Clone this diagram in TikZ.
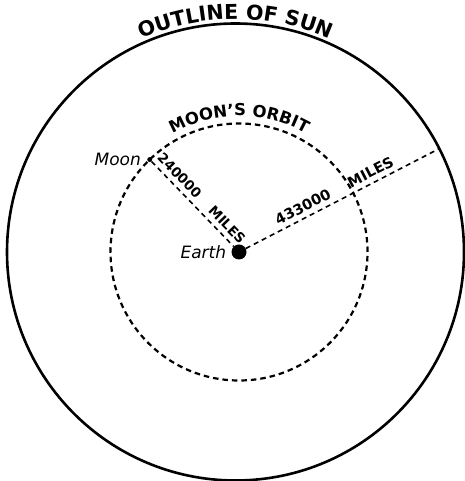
\documentclass[tikz,border=0pt]{standalone}
\usepackage{fontspec}
\setmainfont{DejaVu Sans}
\usetikzlibrary{positioning,decorations.text}

\begin{document}
\begin{tikzpicture}[x=1pt, y=1pt,
    outline/.style={draw, line width=2.6pt},
    orbit/.style={draw, line width=2.2pt, dash pattern=on 5.5pt off 4pt},
    dist/.style={draw, line width=1.6pt, dash pattern=on 5pt off 4pt},
    body/.style={circle, fill, inner sep=0pt},
    lbl/.style={font=\fontsize{17}{17}\selectfont\itshape, inner sep=1pt},
    fig/.style={font=\bfseries\fontsize{13.5}{13.5}\selectfont, sloped, above=2.5pt, inner sep=2pt}
]
    \useasboundingbox (0,0) rectangle (464,481);
    \coordinate (sun) at (235.5,229);
    \node[body, minimum size=15pt] (earth) at (239,229) {};
    \node[body, minimum size=5pt] (moon) at ([shift={(134:128.5)}]earth.center) {};
    \coordinate (rim) at ([shift={(27.3:225.4)}]earth.center);
    \node[lbl, left=5pt of moon] (moonlbl) {Moon};
    \node[lbl, left=4pt of earth] (earthlbl) {Earth};
    % sun and orbit
    \draw[outline] (sun) circle[radius=228.5];
    \draw[orbit] (earth.center) circle[radius=128.5];
    \path[decorate, decoration={text along path, text align=center,
        text={|\bfseries\fontsize{20.5}{20.5}\selectfont|OUTLINE OF SUN}}]
        ([shift={(120:233)}]sun) arc[start angle=120, end angle=60, radius=233];
    \path[decorate, decoration={text along path, text align=center,
        text={|\bfseries\fontsize{16.5}{16.5}\selectfont|MOON'S ORBIT}}]
        ([shift={(125:136)}]earth.center) arc[start angle=125, end angle=55, radius=136];
    % distances
    \draw[dist] (moon) -- (earth)
        node[fig, pos=0.25] {240000}
        node[fig, pos=0.83] {MILES};
    \draw[dist] (earth) -- (rim)
        node[fig, font=\bfseries\fontsize{14.5}{14.5}\selectfont, pos=0.32] {433000}
        node[fig, font=\bfseries\fontsize{14.5}{14.5}\selectfont, pos=0.67] {MILES};
\end{tikzpicture}
\end{document}
